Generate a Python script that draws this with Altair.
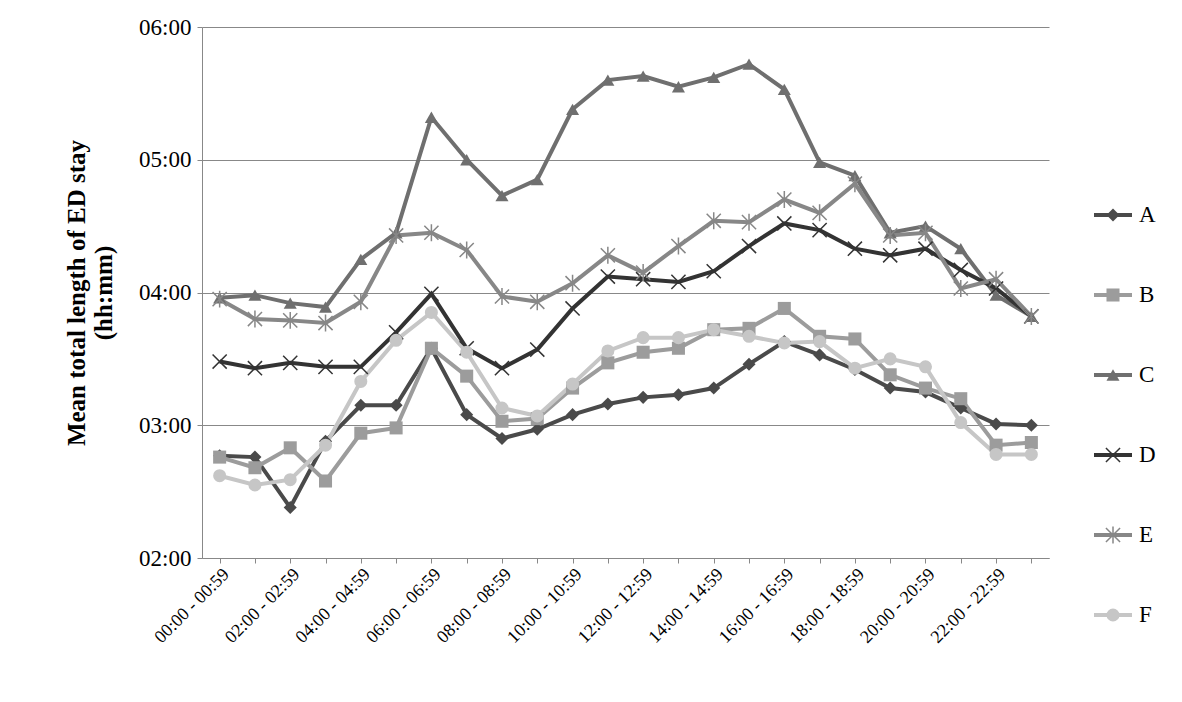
import altair as alt
import pandas as pd

hours = [f"{h:02d}:00 - {h:02d}:59" for h in range(24)]
series = ["A", "B", "C", "D", "E", "F"]

# mean length of stay in hours
A = [2.77, 2.76, 2.38, 2.88, 3.15, 3.15, 3.58, 3.08, 2.90, 2.97, 3.08, 3.16,
     3.21, 3.23, 3.28, 3.46, 3.63, 3.53, 3.42, 3.28, 3.25, 3.13, 3.01, 3.00]
B = [2.76, 2.68, 2.83, 2.58, 2.94, 2.98, 3.58, 3.37, 3.03, 3.05, 3.28, 3.47,
     3.55, 3.58, 3.72, 3.73, 3.88, 3.67, 3.65, 3.38, 3.28, 3.20, 2.85, 2.87]
C = [3.96, 3.98, 3.92, 3.89, 4.25, 4.45, 5.32, 5.00, 4.73, 4.85, 5.38, 5.60,
     5.63, 5.55, 5.62, 5.72, 5.53, 4.98, 4.88, 4.45, 4.50, 4.33, 3.98, 3.82]
D = [3.48, 3.43, 3.47, 3.44, 3.44, 3.70, 3.99, 3.58, 3.43, 3.57, 3.88, 4.12,
     4.10, 4.08, 4.16, 4.35, 4.52, 4.47, 4.33, 4.28, 4.33, 4.17, 4.03, 3.82]
E = [3.95, 3.80, 3.79, 3.77, 3.93, 4.43, 4.45, 4.32, 3.97, 3.93, 4.07, 4.28,
     4.15, 4.35, 4.54, 4.53, 4.70, 4.60, 4.82, 4.43, 4.45, 4.03, 4.10, 3.82]
F = [2.62, 2.55, 2.59, 2.85, 3.33, 3.64, 3.85, 3.55, 3.13, 3.07, 3.31, 3.56,
     3.66, 3.66, 3.72, 3.67, 3.62, 3.63, 3.43, 3.50, 3.44, 3.02, 2.78, 2.78]

colors = ["#4a4a4a", "#9c9c9c", "#6f6f6f", "#333333", "#878787", "#c6c6c6"]
xshape = "M-1,-1L1,1M-1,1L1,-1"
starshape = "M-1,-1L1,1M-1,1L1,-1M0,-1.2L0,1.2"
shapes = ["diamond", "square", "triangle-up", xshape, starshape, "circle"]
filled = [True, True, True, False, False, True]

rows = []
for name, vals in zip(series, [A, B, C, D, E, F]):
    for h, v in zip(hours, vals):
        rows.append({"hour": h, "value": v, "series": name})
df = pd.DataFrame(rows)
leg = pd.DataFrame({"series": series})

FONT = "Liberation Serif"
cscale = alt.Scale(domain=series, range=colors)
color = alt.Color("series:N", scale=cscale, legend=None)

x = alt.X("hour:N", sort=hours, title=None,
          scale=alt.Scale(paddingInner=0, paddingOuter=0),
          axis=alt.Axis(labelAngle=-45, labelFontSize=18, labelFont=FONT,
                        labelColor="#000", domainColor="#888", tickColor="#888",
                        labelExpr="parseInt(substring(datum.value,0,2)) % 2 == 0 ? datum.value : ''"))
y = alt.Y("value:Q", title=["Mean total length of ED stay", "(hh:mm)"],
          scale=alt.Scale(domain=[2, 6], nice=False),
          axis=alt.Axis(values=[2, 3, 4, 5, 6], labelFontSize=23, labelFont=FONT,
                        labelColor="#000", titleFont=FONT, titleFontSize=25,
                        titleFontWeight="bold", titleColor="#000", titlePadding=22,
                        gridColor="#888", domainColor="#888", tickColor="#888",
                        labelPadding=6, labelExpr="'0' + datum.value + ':00'"))

layers = [alt.Chart(df).mark_line(strokeWidth=4).encode(x=x, y=y, color=color)]
for i, (name, shp, fl) in enumerate(zip(series, shapes, filled)):
    sub = df[df.series == name]
    pt = dict(shape=shp, filled=fl, size=170 if fl else 200, strokeWidth=1.5, opacity=1)
    layers.append(alt.Chart(sub).mark_point(**pt).encode(x=x, y=y, color=color))
    # legend entry
    lsub = leg[leg.series == name]
    ypix = 188 + 80 * i
    layers.append(alt.Chart(lsub).mark_rule(strokeWidth=4).encode(
        x=alt.value(892), x2=alt.value(930), y=alt.value(ypix), color=color))
    layers.append(alt.Chart(lsub).mark_point(**pt).encode(
        x=alt.value(911), y=alt.value(ypix), color=color))
    layers.append(alt.Chart(lsub).mark_text(align="left", baseline="middle",
                                            fontSize=23, font=FONT, color="#000").encode(
        x=alt.value(937), y=alt.value(ypix), text="series:N"))

chart = alt.layer(*layers).properties(
    width=847, height=531, background="white",
    padding={"left": 56, "top": 8, "right": 5, "bottom": 5}
).configure_view(stroke=None)

chart.save("out.html", embed_options={"renderer": "svg", "actions": False})
